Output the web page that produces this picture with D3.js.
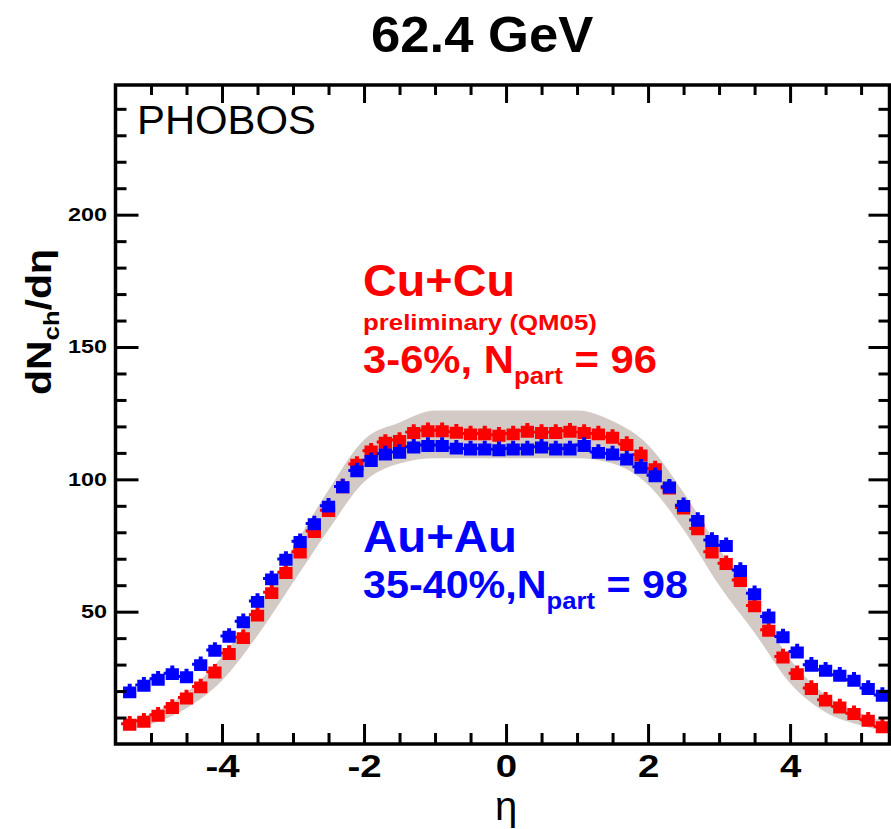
<!DOCTYPE html>
<html>
<head>
<meta charset="utf-8">
<script src="https://cdn.jsdelivr.net/npm/d3@7"></script>
<style>
  html, body { margin: 0; padding: 0; background: #fff; }
  svg { display: block; font-family: "Liberation Sans", Arial, Helvetica, sans-serif; }
  .axis path.domain { display: none; }
  .axis line { stroke: #000; stroke-width: 3; }
  .axis text { font-weight: bold; fill: #000; }
</style>
</head>
<body>
<svg id="chart" width="891" height="829"></svg>
<script>
// eta bin centres (0.2 wide bins)
const etaBins = [-5.3, -5.1, -4.9, -4.7, -4.5, -4.3, -4.1, -3.9, -3.7, -3.5, -3.3, -3.1, -2.9, -2.7,
  -2.5, -2.3, -2.1, -1.9, -1.7, -1.5, -1.3, -1.1, -0.9, -0.7, -0.5, -0.3, -0.1,
  0.1, 0.3, 0.5, 0.7, 0.9, 1.1, 1.3, 1.5, 1.7, 1.9, 2.1, 2.3, 2.5,
  2.7, 2.9, 3.1, 3.3, 3.5, 3.7, 3.9, 4.1, 4.3, 4.5, 4.7, 4.9, 5.1, 5.3];

// Cu+Cu 3-6% (red)
const cuCu = [7.3, 8.4, 10.7, 13.6, 17.2, 21.4, 27, 34, 40, 48.5, 57, 64.6, 72.3, 80.1,
  88, 97, 105.5, 110.5, 113.8, 114.5, 117.5, 118.2, 118.2, 117.6, 117, 117, 116.5,
  117, 118, 117.5, 117.5, 118, 117.5, 117, 115.7, 113, 109, 103.8, 96.5, 89,
  81.1, 72.3, 68, 61.6, 52, 42.8, 32.7, 26.4, 20.8, 16.4, 13.8, 11.3, 8.8, 6.3];

// Au+Au 35-40% (blue)
const auAu = [19.5, 22, 24.3, 26.4, 25.2, 29.8, 35.2, 40.5, 46, 53.7, 62.2, 69.6, 76.3, 83,
  89.7, 97, 103, 106.9, 109.4, 110, 112, 112.6, 112.6, 111.6, 111.3, 111.3, 111,
  111.3, 111.3, 112, 111.3, 111.3, 112.6, 110, 109.4, 107.5, 104.4, 101.2, 96.9, 89.9,
  84.3, 76.7, 74.8, 65.4, 56.6, 47.8, 40.3, 34.6, 29.6, 27.7, 25.8, 23.9, 20.8, 18.2];

// systematic band of Cu+Cu
const bandEta = [-5.4, -5.0, -4.5, -4.0, -3.5, -3.0, -2.5, -2.0, -1.5, -1.0, -0.5, 0,
  0.5, 1.0, 1.5, 2.0, 2.5, 3.0, 3.5, 4.0, 4.5, 5.0, 5.4];
const bandLow = [5, 7.5, 13.5, 24, 41, 61, 81, 99, 106, 108, 108, 108,
  108, 108, 106, 98, 81, 60, 42, 23, 12, 7, 4.5];
const bandHigh = [8.5, 11.5, 19.5, 33, 52, 74, 96, 115, 121.5, 126, 126, 126,
  126, 126, 122, 113, 95, 74, 54, 32, 18.5, 11.5, 8];

const xMajorTicks = [-4, -2, 0, 2, 4];
const xMinorTicks = [-5, -4.5, -3.5, -3, -2.5, -1.5, -1, -0.5, 0.5, 1, 1.5, 2.5, 3, 3.5, 4.5, 5];
const yMajorTicks = [50, 100, 150, 200];
const yMinorTicks = [10, 20, 30, 40, 60, 70, 80, 90, 110, 120, 130, 140, 160, 170, 180, 190, 210, 220, 230, 240];

const chart = d3.select('#chart');
const plotLeft = 115.5, plotRight = 889.5, plotTop = 85, plotBottom = 744;

const x = d3.scaleLinear().domain([-5.5, 5.4]).range([plotLeft, plotRight]);
const y = d3.scaleLinear().domain([0, 249]).range([plotBottom, plotTop]);

// stretch a text node horizontally to a measured width
function fitText(sel, tx, ty, width, extra) {
  const w = sel.node().getBBox().width;
  sel.attr('transform', `translate(${tx},${ty}) ${extra || ''} scale(${width / w},1)`);
  return sel;
}

chart.append('clipPath').attr('id', 'plot-clip')
  .append('rect').attr('x', plotLeft).attr('y', plotTop)
  .attr('width', plotRight - plotLeft).attr('height', plotBottom - plotTop);

const plot = chart.append('g').attr('clip-path', 'url(#plot-clip)');

// systematic band
const band = bandEta.map((e, i) => ({ eta: e, lo: bandLow[i], hi: bandHigh[i] }));
plot.append('path')
  .attr('fill', '#d3cac6')
  .attr('d', d3.area().x(d => x(d.eta)).y0(d => y(d.lo)).y1(d => y(d.hi)).curve(d3.curveMonotoneX)(band));

// blocky marker: square with small stubs, like the ROOT star at low resolution
const blockMarker = {
  draw(ctx, size) {
    const w = Math.sqrt(size) / 2;
    const h = w * 0.9;
    ctx.moveTo(-w, -h);
    ctx.lineTo(-w * 0.3, -h);
    ctx.lineTo(-w * 0.3, -h * 1.45);
    ctx.lineTo(w * 0.3, -h * 1.45);
    ctx.lineTo(w * 0.3, -h);
    ctx.lineTo(w, -h);
    ctx.lineTo(w, h);
    ctx.lineTo(-w, h);
    ctx.lineTo(-w, h * 0.1);
    ctx.lineTo(-w * 1.3, h * 0.1);
    ctx.lineTo(-w * 1.3, -h * 0.4);
    ctx.lineTo(-w, -h * 0.4);
    ctx.closePath();
  }
};
const marker = d3.symbol().type(blockMarker).size(176);

function drawSeries(values, color) {
  plot.append('g').selectAll('path')
    .data(values)
    .join('path')
    .attr('transform', (d, i) => `translate(${x(etaBins[i])},${y(d)})`)
    .attr('fill', color)
    .attr('d', marker);
}
drawSeries(cuCu, '#ff0000');
drawSeries(auAu, '#0000ff');

// axes with inward ticks on all four sides
function addAxis(axis, tx, ty) {
  return chart.append('g').attr('class', 'axis').attr('transform', `translate(${tx},${ty})`).call(axis);
}
addAxis(d3.axisBottom(x).tickValues(xMinorTicks).tickSize(-11).tickFormat(''), 0, plotBottom);
const xAxis = addAxis(d3.axisBottom(x).tickValues(xMajorTicks).tickSize(-20).tickPadding(10)
  .tickFormat(d => String(d)), 0, plotBottom);
xAxis.selectAll('text').attr('font-size', 32).attr('transform', 'scale(1.2,1)');

addAxis(d3.axisTop(x).tickValues(xMinorTicks).tickSize(-10).tickFormat(''), 0, plotTop);
addAxis(d3.axisTop(x).tickValues(xMajorTicks).tickSize(-18).tickFormat(''), 0, plotTop);

addAxis(d3.axisLeft(y).tickValues(yMinorTicks).tickSize(-11).tickFormat(''), plotLeft, 0);
const yAxis = addAxis(d3.axisLeft(y).tickValues(yMajorTicks).tickSize(-23).tickFormat(d => String(d)), plotLeft, 0);
yAxis.selectAll('text').attr('font-size', 18).attr('x', 0).attr('transform', 'translate(-8.5,0) scale(1.3,1)');

addAxis(d3.axisRight(y).tickValues(yMinorTicks).tickSize(-11).tickFormat(''), plotRight, 0);
addAxis(d3.axisRight(y).tickValues(yMajorTicks).tickSize(-21).tickFormat(''), plotRight, 0);

chart.append('rect')
  .attr('x', plotLeft).attr('y', plotTop)
  .attr('width', plotRight - plotLeft).attr('height', plotBottom - plotTop)
  .attr('fill', 'none').attr('stroke', '#000').attr('stroke-width', 3.5);

// titles and labels
const title = chart.append('text').attr('font-size', 50).attr('font-weight', 'bold').text('62.4 GeV');
fitText(title, 371, 52, 223);

const phobos = chart.append('text').attr('font-size', 40).text('PHOBOS');
fitText(phobos, 137, 134, 179);

const yLabel = chart.append('text').attr('font-size', 35).attr('font-weight', 'bold').attr('text-anchor', 'middle');
yLabel.append('tspan').text('dN');
yLabel.append('tspan').attr('font-size', 22).attr('dy', 8).text('ch');
yLabel.append('tspan').attr('dy', -8).text('/d\u03b7');
fitText(yLabel, 51, 322, 146, 'rotate(-90)');

chart.append('text').attr('x', 506).attr('y', 820).attr('font-size', 40)
  .attr('text-anchor', 'middle').text('\u03b7');

// legend text
function label(lines, color) {
  lines.forEach(l => {
    const t = chart.append('text').attr('font-weight', 'bold').attr('fill', color).attr('font-size', l.size);
    t.append('tspan').text(l.text);
    if (l.sub) {
      t.append('tspan').attr('font-size', l.size * 0.62).attr('dy', l.size * 0.28).text(l.sub);
      t.append('tspan').attr('dy', -l.size * 0.28).text(l.rest);
    }
    fitText(t, 363, l.y, l.width);
  });
}
label([
  { text: 'Cu+Cu', size: 44, y: 296, width: 152 },
  { text: 'preliminary (QM05)', size: 22, y: 330, width: 234 },
  { text: '3-6%, N', sub: 'part', rest: ' = 96', size: 38, y: 373, width: 294 }
], '#ff0000');
label([
  { text: 'Au+Au', size: 44, y: 552, width: 154 },
  { text: '35-40%,N', sub: 'part', rest: ' = 98', size: 38, y: 598, width: 325 }
], '#0000ff');
</script>
</body>
</html>
